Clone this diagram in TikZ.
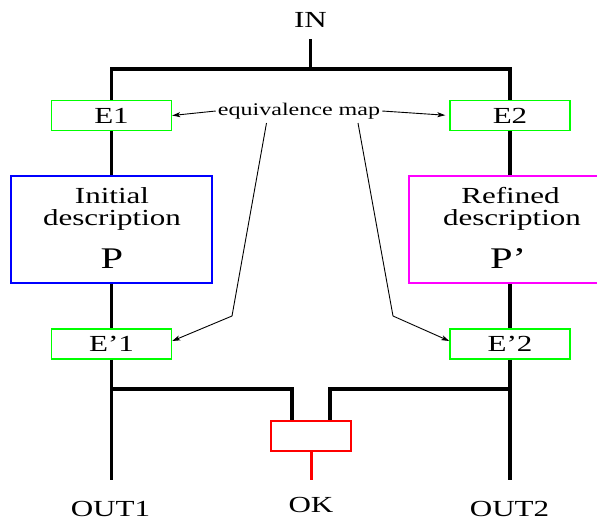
\documentclass[tikz,border=0pt]{standalone}
\usepackage{fontspec}
\setmainfont{Liberation Serif}[FakeStretch=1.35]
\usetikzlibrary{arrows.meta}
\definecolor{fgreen}{RGB}{0,255,0}
\definecolor{fblue}{RGB}{0,0,255}
\definecolor{fmag}{RGB}{255,0,255}
\definecolor{fred}{RGB}{255,0,0}
\begin{document}
\begin{tikzpicture}[x=1pt,y=-1pt,
  wire/.style={line width=3.2pt},
  ebox/.style={draw=fgreen,line width=1.4pt,minimum width=120pt,minimum height=30pt,inner sep=0pt,
    font=\fontsize{23}{27}\selectfont,text height=15pt,text depth=0pt},
  lbl/.style={font=\fontsize{23}{27}\selectfont,anchor=base,inner sep=0pt},
  bigl/.style={font=\fontsize{30}{36}\selectfont,anchor=base,inner sep=0pt},
  descbox/.style={line width=1.6pt,minimum height=107pt,inner sep=0pt},
  pointer/.style={line width=0.9pt,-{Stealth[length=8pt,width=5pt,inset=2pt]}},
]
\useasboundingbox (0,0) rectangle (597,520);

% nodes
\node[lbl] (in) at (310.5,27) {IN};
\node[ebox] (e1) at (111.5,115.5) {E1};
\node[ebox] (e2) at (510,115.5) {E2};
\node[font=\fontsize{17.8}{22}\selectfont,inner sep=2pt] (eq) at (299,111) {equivalence map};

\node[descbox,draw=fblue,minimum width=201pt] (init) at (111.5,229.5) {};
\node[lbl] (initT) at (112,203) {Initial};
\node[lbl] (initD) at (112,225) {description};
\node[bigl] (initP) at (112,268) {P};

\begin{scope}
  \clip (0,0) rectangle (597,520);
  \node[descbox,draw=fmag,minimum width=206pt] (ref) at (512,229.5) {};
\end{scope}
\node[lbl] (refT) at (510.5,203) {Refined};
\node[lbl] (refD) at (512,225) {description};
\node[bigl] (refP) at (508,268) {P’};

\node[ebox] (ep1) at (111.5,344) {E’1};
\node[ebox] (ep2) at (510,344) {E’2};

\node[draw=fred,line width=1.3pt,minimum width=80pt,minimum height=30pt,inner sep=0pt] (cmp) at (311,436) {};

\node[lbl] (out1) at (110.5,516) {OUT1};
\node[lbl] (ok) at (311,512) {OK};
\node[lbl] (out2) at (509.5,516) {OUT2};

% coordinates
\coordinate (inl) at (310.5,39);
\coordinate (tj) at (310.5,69);
\coordinate (j1) at (111.5,389);
\coordinate (j2) at (510,389);
\coordinate (o1) at (111.5,480);
\coordinate (o2) at (510,480);
\coordinate (ko) at (311,480);
\coordinate (s1) at (266.5,123);
\coordinate (s2) at (358,123);
\coordinate (b1) at (232,316);
\coordinate (b2) at (393,316);

% wires
\draw[wire] (inl) -- (tj);
\draw[wire] (e1.north) |- (tj) -| (e2.north);
\draw[wire] (e1.south) -- (init.north);
\draw[wire] (e2.south) -- (e2.south |- ref.north);
\draw[wire] (init.south) -- (ep1.north);
\draw[wire] (ep2.north |- ref.south) -- (ep2.north);
\draw[wire] (ep1.south) -- (o1);
\draw[wire] (ep2.south) -- (o2);
\draw[wire] (j1) -| ([xshift=-19pt]cmp.north);
\draw[wire] (j2) -| ([xshift=19pt]cmp.north);
\draw[fred,line width=3pt] (cmp.south) -- (ko);

% equivalence map pointers
\draw[pointer] (eq.west) -- (e1.east);
\draw[pointer,shorten >=4pt] (eq.east) -- (e2.west);
\draw[pointer] (s1) -- (b1) -- ([yshift=3pt]ep1.east);
\draw[pointer] (s2) -- (b2) -- ([yshift=3pt]ep2.west);
\end{tikzpicture}
\end{document}
